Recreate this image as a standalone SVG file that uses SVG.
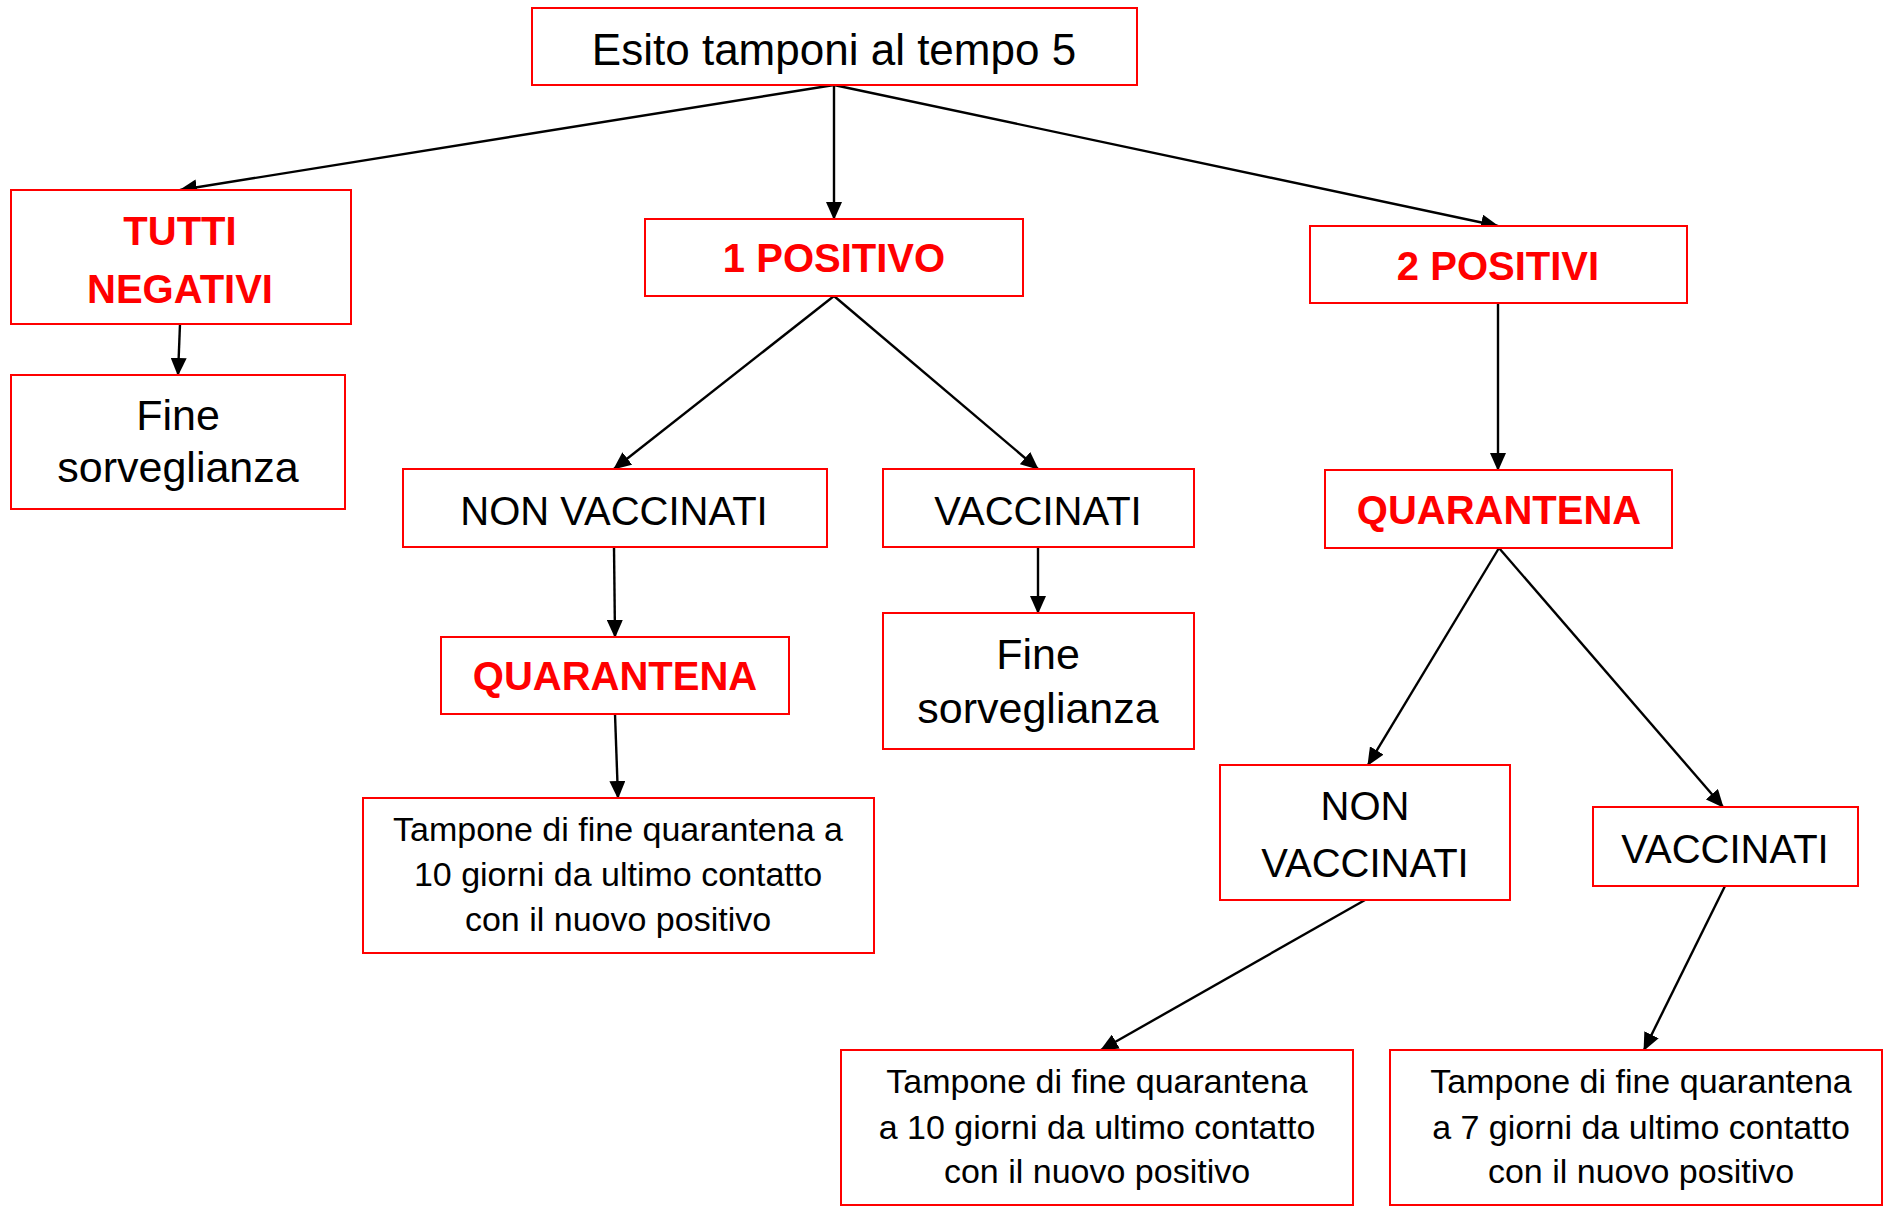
<svg xmlns="http://www.w3.org/2000/svg" width="1884" height="1210" viewBox="0 0 1884 1210">
<style>
.box{fill:#fff;stroke:#ff0000;stroke-width:2}
.t{font-family:"Liberation Sans",Arial,sans-serif;fill:#000;text-anchor:middle}
.r{font-family:"Liberation Sans",Arial,sans-serif;fill:#ff0000;font-weight:bold;text-anchor:middle;font-size:40px}
.big{font-size:43px}
.root{font-size:44px}
.caps{font-size:40px}
.sm{font-size:34px}
.c{stroke:#000;stroke-width:2.4;fill:none;marker-end:url(#ah)}
</style>
<defs>
<marker id="ah" markerUnits="userSpaceOnUse" markerWidth="18" markerHeight="16" refX="17" refY="8" orient="auto">
<path d="M0,0 L18,8 L0,16 Z" fill="#000"/>
</marker>
</defs>
<rect width="1884" height="1210" fill="#fff"/>
<g id="connectors">
<line class="c" x1="834" y1="85" x2="180" y2="190"/>
<line class="c" x1="834" y1="85" x2="834" y2="219"/>
<line class="c" x1="834" y1="85" x2="1498" y2="226"/>
<line class="c" x1="180" y1="324" x2="178" y2="375"/>
<line class="c" x1="834" y1="296" x2="614" y2="469"/>
<line class="c" x1="834" y1="296" x2="1038" y2="469"/>
<line class="c" x1="614" y1="547" x2="615" y2="637"/>
<line class="c" x1="1038" y1="547" x2="1038" y2="613"/>
<line class="c" x1="615" y1="714" x2="618" y2="798"/>
<line class="c" x1="1498" y1="303" x2="1498" y2="470"/>
<line class="c" x1="1499" y1="548" x2="1368" y2="765"/>
<line class="c" x1="1499" y1="548" x2="1723" y2="807"/>
<line class="c" x1="1365" y1="900" x2="1101" y2="1050"/>
<line class="c" x1="1725" y1="886" x2="1644" y2="1050"/>
</g>
<g id="root">
<rect class="box" x="532" y="8" width="605" height="77"/>
<text class="t root" x="834" y="65">Esito tamponi al tempo 5</text>
</g>
<g id="tutti-negativi">
<rect class="box" x="11" y="190" width="340" height="134"/>
<text class="r" x="180" y="245">TUTTI</text>
<text class="r" x="180" y="303">NEGATIVI</text>
</g>
<g id="fine-sorv-1">
<rect class="box" x="11" y="375" width="334" height="134"/>
<text class="t big" x="178" y="430">Fine</text>
<text class="t big" x="178" y="482">sorveglianza</text>
</g>
<g id="uno-positivo">
<rect class="box" x="645" y="219" width="378" height="77"/>
<text class="r" x="834" y="272">1 POSITIVO</text>
</g>
<g id="due-positivi">
<rect class="box" x="1310" y="226" width="377" height="77"/>
<text class="r" x="1498" y="280">2 POSITIVI</text>
</g>
<g id="non-vaccinati-1">
<rect class="box" x="403" y="469" width="424" height="78"/>
<text class="t caps" x="614" y="525">NON VACCINATI</text>
</g>
<g id="vaccinati-1">
<rect class="box" x="883" y="469" width="311" height="78"/>
<text class="t caps" x="1038" y="525">VACCINATI</text>
</g>
<g id="quarantena-1">
<rect class="box" x="441" y="637" width="348" height="77"/>
<text class="r" x="615" y="690">QUARANTENA</text>
</g>
<g id="fine-sorv-2">
<rect class="box" x="883" y="613" width="311" height="136"/>
<text class="t big" x="1038" y="669">Fine</text>
<text class="t big" x="1038" y="723">sorveglianza</text>
</g>
<g id="tampone-1">
<rect class="box" x="363" y="798" width="511" height="155"/>
<text class="t sm" x="618" y="841">Tampone di fine quarantena a</text>
<text class="t sm" x="618" y="886">10 giorni da ultimo contatto</text>
<text class="t sm" x="618" y="931">con il nuovo positivo</text>
</g>
<g id="quarantena-2">
<rect class="box" x="1325" y="470" width="347" height="78"/>
<text class="r" x="1499" y="524">QUARANTENA</text>
</g>
<g id="non-vaccinati-2">
<rect class="box" x="1220" y="765" width="290" height="135"/>
<text class="t caps" x="1365" y="820">NON</text>
<text class="t caps" x="1365" y="877">VACCINATI</text>
</g>
<g id="vaccinati-2">
<rect class="box" x="1593" y="807" width="265" height="79"/>
<text class="t caps" x="1725" y="863">VACCINATI</text>
</g>
<g id="tampone-2">
<rect class="box" x="841" y="1050" width="512" height="155"/>
<text class="t sm" x="1097" y="1093">Tampone di fine quarantena</text>
<text class="t sm" x="1097" y="1139">a 10 giorni da ultimo contatto</text>
<text class="t sm" x="1097" y="1183">con il nuovo positivo</text>
</g>
<g id="tampone-3">
<rect class="box" x="1390" y="1050" width="492" height="155"/>
<text class="t sm" x="1641" y="1093">Tampone di fine quarantena</text>
<text class="t sm" x="1641" y="1139">a 7 giorni da ultimo contatto</text>
<text class="t sm" x="1641" y="1183">con il nuovo positivo</text>
</g>
</svg>
